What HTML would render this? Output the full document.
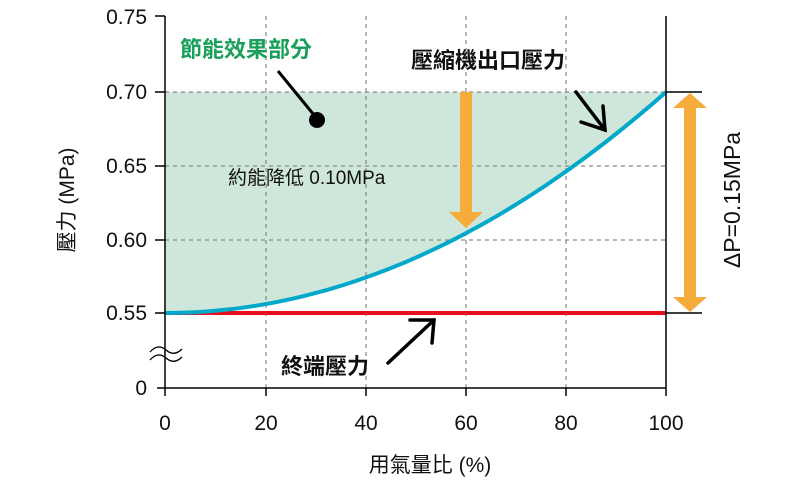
<!DOCTYPE html>
<html><head><meta charset="utf-8"><style>
body{margin:0;background:#fff}
svg text{font-family:"Liberation Sans","Noto Sans CJK TC",sans-serif}
</style></head><body>
<svg width="800" height="479" viewBox="0 0 800 479" xmlns="http://www.w3.org/2000/svg">
<path d="M165,92 L666,92 L666,92 L641,112.4 L616,131.6 L591,149.7 L566,166.6 L541,182.3 L516,196.9 L491,210.3 L466,222.6 L441,233.7 L416,243.7 L391,252.5 L366,260.2 L341,266.7 L316,272.1 L291,276.3 L266,279.4 L241,281.3 L216,282.1 Z" fill="none"/>
<polygon id="f" fill="#cfe6da" points=""/>
<g stroke="#888" stroke-width="1.2" stroke-dasharray="4,4" fill="none">
<line x1="266" y1="16" x2="266" y2="388"/><line x1="366" y1="16" x2="366" y2="388"/>
<line x1="466" y1="16" x2="466" y2="388"/><line x1="566" y1="16" x2="566" y2="388"/>
<line x1="165" y1="92" x2="666" y2="92"/><line x1="165" y1="166" x2="666" y2="166"/>
<line x1="165" y1="240" x2="666" y2="240"/>
</g>
<line x1="165" y1="313" x2="666" y2="313" stroke="#e8101e" stroke-width="4"/>
<polyline id="c" fill="none" stroke="#00a9c9" stroke-width="4" points=""/>
<g stroke="#000" stroke-width="1.5" fill="none">
<line x1="165" y1="16" x2="165" y2="396"/>
<line x1="666" y1="16" x2="666" y2="388"/>
<line x1="157" y1="388" x2="666" y2="388"/>
<line x1="155" y1="16" x2="165" y2="16"/><line x1="155" y1="92" x2="165" y2="92"/>
<line x1="155" y1="166" x2="165" y2="166"/><line x1="155" y1="240" x2="165" y2="240"/>
<line x1="155" y1="313" x2="165" y2="313"/>
<line x1="266" y1="388" x2="266" y2="396"/><line x1="366" y1="388" x2="366" y2="396"/>
<line x1="466" y1="388" x2="466" y2="396"/><line x1="566" y1="388" x2="566" y2="396"/>
<line x1="666" y1="388" x2="666" y2="396"/>
<line x1="666" y1="92" x2="702" y2="92"/><line x1="666" y1="313" x2="702" y2="313"/>
<path d="M150,352 q8,-9 16,-2 t16,-1 M150,360 q8,-9 16,-2 t16,-1" stroke-width="1.3"/>
</g>
<g font-size="21" fill="#111" text-anchor="end">
<text x="147" y="24">0.75</text><text x="147" y="99">0.70</text><text x="147" y="173">0.65</text>
<text x="147" y="247">0.60</text><text x="147" y="320">0.55</text><text x="147" y="395">0</text>
</g>
<g font-size="21" fill="#111" text-anchor="middle">
<text x="165" y="430">0</text><text x="266" y="430">20</text><text x="366" y="430">40</text>
<text x="466" y="430">60</text><text x="566" y="430">80</text><text x="666" y="430">100</text>
<text x="430" y="472">用氣量比 (%)</text>
</g>
<text transform="translate(74,200) rotate(-90)" text-anchor="middle" font-size="21" fill="#111">壓力 (MPa)</text>
<text transform="translate(740,200) rotate(-90)" text-anchor="middle" font-size="23" fill="#111">ΔP=0.15MPa</text>
<text x="180" y="57" font-size="22" font-weight="bold" fill="#1aa05a">節能效果部分</text>
<text x="411" y="68" font-size="22" font-weight="bold" fill="#111">壓縮機出口壓力</text>
<text x="228" y="184" font-size="19" fill="#111">約能降低 0.10MPa</text>
<text x="281" y="374" font-size="22" font-weight="bold" fill="#111">終端壓力</text>
<line x1="278" y1="71" x2="314" y2="115" stroke="#000" stroke-width="3"/>
<circle cx="317" cy="120" r="8" fill="#000"/>
<g stroke="#000" stroke-width="3.5" fill="none" stroke-linecap="round">
<line x1="388" y1="363" x2="434" y2="320"/><path d="M410,320 L434,320 L432,343"/>
<line x1="576" y1="92" x2="605" y2="130"/><path d="M581,122 L605,130 L603,106"/>
</g>
<rect x="460" y="92" width="12" height="122" fill="#f5ac3b"/>
<path d="M449,212 L483,212 L466,228 Z" fill="#f5ac3b"/>
<rect x="684" y="108" width="12" height="190" fill="#f5ac3b"/>
<path d="M673,108 L707,108 L690,93 Z M673,297 L707,297 L690,312 Z" fill="#f5ac3b"/>
<script>
var p=[];for(var i=0;i<=50;i++){var t=i/50;p.push((165+501*t).toFixed(1)+","+(313-221*t*t).toFixed(1));}
document.getElementById('c').setAttribute('points',p.join(' '));
document.getElementById('f').setAttribute('points','165,92 '+p.join(' '));
</script>
</svg>
</body></html>
